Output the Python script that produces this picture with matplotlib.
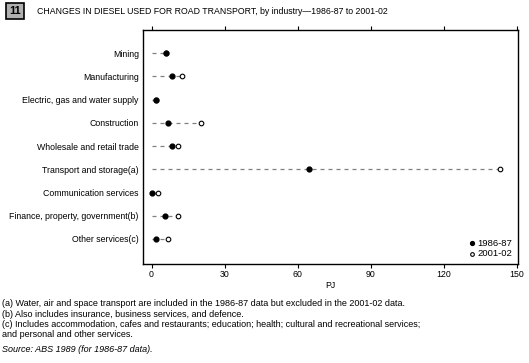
import matplotlib
matplotlib.use("Agg")
import matplotlib.pyplot as plt
from matplotlib.patches import Rectangle

plt.rcParams['font.family'] = ['Liberation Sans', 'DejaVu Sans']

categories = ["Mining", "Manufacturing", "Electric, gas and water supply", "Construction",
              "Wholesale and retail trade", "Transport and storage(a)", "Communication services",
              "Finance, property, government(b)", "Other services(c)"]
v1986 = [5.8, 8.6, 1.8, 6.6, 8.5, 64.8, 0.0, 5.6, 1.8]
v2001 = [6.0, 12.6, 1.9, 20.5, 10.7, 143.1, 2.7, 10.7, 6.8]
xticks = [0, 30, 60, 90, 120, 150]

W, H = 529, 363
fig = plt.figure(figsize=(W/100, H/100), dpi=100)
ax = fig.add_axes([143/W, 1-264/H, (518-143)/W, (264-30)/H])

ys = list(range(len(categories)))
for y, a, b in zip(ys, v1986, v2001):
    ax.plot([0, max(a, b)], [y, y], color='#808080', lw=0.9, dashes=(3.2, 3.2), zorder=1)
ax.scatter(v1986, ys, s=12, color='black', zorder=3, label='1986-87')
ax.scatter(v2001, ys, s=11, facecolor='white', edgecolor='black', linewidths=0.8, zorder=2, label='2001-02')

ax.set_xlim(-3.5, 150.5)
ax.set_ylim(len(categories) + 0.08, -1.0)
ax.set_yticks(ys)
ax.set_yticklabels(categories, fontsize=6.3)
ax.tick_params(axis='y', length=0, pad=3)
ax.set_xticks(xticks)
ax.set_xticklabels([str(t) for t in xticks], fontsize=6.3)
ax.tick_params(axis='x', direction='out', length=3, width=0.8, pad=1.5, top=True)
for s in ax.spines.values():
    s.set_linewidth(1.0)
ax.set_xlabel("PJ", fontsize=6.3, labelpad=1.5)

leg = ax.legend(loc='lower right', fontsize=6.8, frameon=False, handletextpad=0.1,
                markerscale=0.8, labelspacing=0.15, borderaxespad=0.2, handlelength=1.0,
                bbox_to_anchor=(1.0, 0.0))

# title box
fig.patches.append(Rectangle((6/W, 1-19/H), 18/W, 16/H, transform=fig.transFigure,
                             facecolor='#b0b0b0', edgecolor='black', lw=1.2))
fig.text(15/W, 1-11.5/H, "11", fontsize=8, fontweight='bold', ha='center', va='center')
fig.text(37/W, 1-12/H, "CHANGES IN DIESEL USED FOR ROAD TRANSPORT, by industry\u20141986-87 to 2001-02",
         fontsize=6.3, ha='left', va='center')

notes = ["(a) Water, air and space transport are included in the 1986-87 data but excluded in the 2001-02 data.",
         "(b) Also includes insurance, business services, and defence.",
         "(c) Includes accommodation, cafes and restaurants; education; health; cultural and recreational services;",
         "and personal and other services."]
note_y = [304, 314.5, 324.5, 334.5]
for n, yy in zip(notes, note_y):
    fig.text(2/W, 1-yy/H, n, fontsize=6.5, ha='left', va='center')
fig.text(2/W, 1-349/H, "Source: ABS 1989 (for 1986-87 data).", fontsize=6.5, style='italic',
         ha='left', va='center')

fig.savefig("out.png", dpi=100)
